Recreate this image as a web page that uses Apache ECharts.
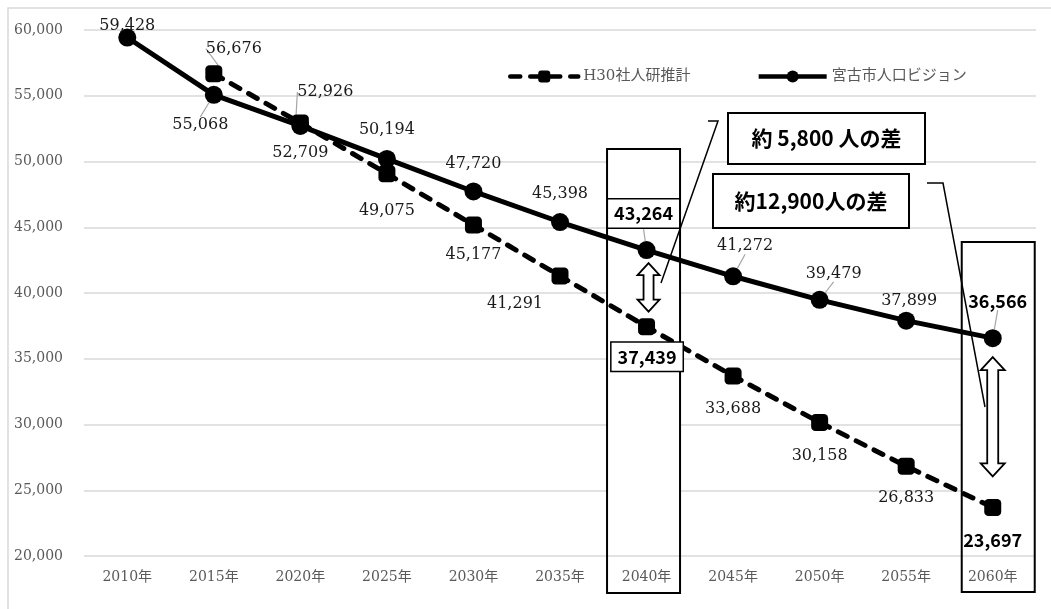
<!DOCTYPE html>
<html>
<head>
<meta charset="utf-8">
<script src="https://cdn.jsdelivr.net/npm/echarts@6/dist/echarts.min.js"></script>
<style>html,body{margin:0;padding:0;background:#fff}#c{width:1051px;height:609px}</style>
</head>
<body>
<div id="c"></div>
<script>
// ---- data ----
const years = ['2010年','2015年','2020年','2025年','2030年','2035年','2040年','2045年','2050年','2055年','2060年'];
const h30Values = [null, 56676, 52926, 49075, 45177, 41291, 37439, 33688, 30158, 26833, 23697];
const visionValues = [59428, 55068, 52709, 50194, 47720, 45398, 43264, 41272, 39479, 37899, 36566];
const seriesNames = ['H30社人研推計', '宮古市人口ビジョン'];
const yMin = 20000, yMax = 60000, yStep = 5000;
const noteTexts = ['約 5,800 人の差', '約12,900人の差'];

// ---- styling (label offsets from point centre, px) ----
const FONT_SERIF = "'DejaVu Serif', 'Noto Sans CJK JP', serif";
const FONT_BOLD = "'Noto Sans CJK JP', sans-serif";
const h30Off = [null, [20,-25], [25,-31], [0,37], [0,30], [-45,28], [0.5,30], [0,33], [0,33], [0,32], [0,33]];
const visOff = [[0,-11.5], [-13.5,30], [0,27], [0,-29], [0,-28], [0,-28], [-3,-36.5], [12,-30], [14,-26], [3,-20], [5,-37]];
const h30Bold = {6: 'box', 10: 'plain'};
const visBold = {6: 'box', 10: 'plain'};
const h30Leader = [1, 2];
const visLeader = [1, 6, 7, 8, 10];

function makeData(vals, bold, leaders) {
  return vals.map((v, i) => {
    if (v == null) return '-';
    const item = { value: v };
    if (bold[i]) {
      item.label = { fontFamily: FONT_BOLD, fontWeight: 'bold', fontSize: 18, color: '#000' };
      if (bold[i] === 'box') Object.assign(item.label, {
        backgroundColor: '#fff', borderColor: '#000', borderWidth: 1.5, padding: [5, 6, 5, 6]
      });
    }
    if (leaders.indexOf(i) >= 0) item.labelLine = { show: true };
    return item;
  });
}

const fmt = v => Number(v).toLocaleString('en-US');

const chart = echarts.init(document.getElementById('c'), null, { renderer: 'canvas' });

const labelBase = {
  show: true, position: 'inside', formatter: p => fmt(p.value),
  fontFamily: FONT_SERIF, fontSize: 16, color: '#1a1a1a'
};

const option = {
  animation: false,
  backgroundColor: '#fff',
  grid: { left: 84, right: 15, top: 30, bottom: 53 },
  legend: {
    data: seriesNames, left: 503, top: 64, itemWidth: 68, itemHeight: 15, itemGap: 66,
    textStyle: { color: '#595959', fontSize: 15, fontFamily: FONT_SERIF },
    lineStyle: { width: 4.5 }
  },
  xAxis: {
    type: 'category', data: years,
    axisLine: { show: false }, axisTick: { show: false },
    axisLabel: { color: '#595959', fontSize: 14, fontFamily: FONT_SERIF, margin: 14 }
  },
  yAxis: {
    type: 'value', min: yMin, max: yMax, interval: yStep,
    axisLine: { show: false }, axisTick: { show: false },
    axisLabel: { color: '#595959', fontSize: 14, fontFamily: FONT_SERIF, margin: 21, formatter: fmt },
    splitLine: { lineStyle: { color: '#d9d9d9', width: 1.5 } }
  },
  series: [
    {
      name: seriesNames[0], type: 'line', data: makeData(h30Values, h30Bold, h30Leader),
      symbol: 'roundRect', symbolSize: 17,
      itemStyle: { color: '#000' },
      lineStyle: { color: '#000', width: 5, type: [10, 10], cap: 'round' },
      label: labelBase,
      labelLine: { show: false, lineStyle: { color: '#a6a6a6', width: 1.2 } },
      labelLayout: p => {
        const o = h30Off[p.dataIndex]; if (!o) return {};
        return { x: p.rect.x + p.rect.width / 2 + o[0], y: p.rect.y + p.rect.height / 2 + o[1], align: 'center', verticalAlign: 'middle' };
      }
    },
    {
      name: seriesNames[1], type: 'line', data: makeData(visionValues, visBold, visLeader),
      symbol: 'circle', symbolSize: 18,
      itemStyle: { color: '#000' },
      lineStyle: { color: '#000', width: 5 },
      label: labelBase,
      labelLine: { show: false, lineStyle: { color: '#a6a6a6', width: 1.2 } },
      labelLayout: p => {
        const o = visOff[p.dataIndex]; if (!o) return {};
        return { x: p.rect.x + p.rect.width / 2 + o[0], y: p.rect.y + p.rect.height / 2 + o[1], align: 'center', verticalAlign: 'middle' };
      }
    }
  ]
};
chart.setOption(option);

// ---- annotations (boxes, arrows, callouts) ----
const px = (i, v) => chart.convertToPixel({ gridIndex: 0 }, [years[i], v]);
const plotBottom = px(0, yMin)[1];
const c40 = px(6, visionValues[6])[0];
const c60 = px(10, visionValues[10])[0];

function dblArrow(cx, top, bottom, headW, headH, shaftW) {
  return [
    [cx, top], [cx + headW / 2, top + headH], [cx + shaftW / 2, top + headH],
    [cx + shaftW / 2, bottom - headH], [cx + headW / 2, bottom - headH], [cx, bottom],
    [cx - headW / 2, bottom - headH], [cx - shaftW / 2, bottom - headH],
    [cx - shaftW / 2, top + headH], [cx - headW / 2, top + headH]
  ];
}

const boxes = [
  { l: c40 - 39.5, r: c40 + 33.5, t: 149, b: 593 },
  { l: c60 - 31, r: c60 + 42, t: 242, b: 592 }
];

const g = [
  { type: 'rect', z: 0, silent: true, shape: { x: 8, y: 8, width: 1200, height: 800 },
    style: { fill: 'none', stroke: '#d9d9d9', lineWidth: 1.5 } }
];
boxes.forEach(b => {
  g.push({ type: 'rect', z: 1, silent: true, shape: { x: b.l, y: b.t, width: b.r - b.l, height: plotBottom - 1 - b.t },
    style: { fill: '#fff', stroke: null } });
  g.push({ type: 'rect', z: 1, silent: true, shape: { x: b.l, y: b.t, width: b.r - b.l, height: b.b - b.t },
    style: { fill: 'none', stroke: '#000', lineWidth: 2 } });
});
// arrows
const a40top = px(6, visionValues[6])[1] + 13, a40bot = px(6, h30Values[6])[1] - 15;
const a60top = px(10, visionValues[10])[1] + 19, a60bot = px(10, h30Values[10])[1] - 31;
g.push({ type: 'polygon', z: 10, silent: true, shape: { points: dblArrow(c40 + 2, a40top, a40bot, 22, 12, 10) },
  style: { fill: '#fff', stroke: '#000', lineWidth: 1.8 } });
g.push({ type: 'polygon', z: 10, silent: true, shape: { points: dblArrow(c60, a60top, a60bot, 24, 13, 11) },
  style: { fill: '#fff', stroke: '#000', lineWidth: 1.8 } });
// callout lines
g.push({ type: 'polyline', z: 10, silent: true, shape: { points: [[708, 121], [718, 121], [661, 283]] },
  style: { fill: null, stroke: '#000', lineWidth: 1.5 } });
g.push({ type: 'polyline', z: 10, silent: true, shape: { points: [[927, 183], [943, 183], [985, 407]] },
  style: { fill: null, stroke: '#000', lineWidth: 1.5 } });
// callout boxes
const callouts = [
  { x: 728, y: 113, w: 197, h: 51, text: noteTexts[0] },
  { x: 713, y: 174, w: 196, h: 54, text: noteTexts[1] }
];
callouts.forEach(c => {
  g.push({ type: 'rect', z: 11, silent: true, shape: { x: c.x, y: c.y, width: c.w, height: c.h },
    style: { fill: '#fff', stroke: '#000', lineWidth: 2 } });
  g.push({ type: 'text', z: 12, silent: true, x: c.x + c.w / 2, y: c.y + c.h / 2,
    style: { text: c.text, fill: '#000', font: "bold 21px 'Noto Sans CJK JP', sans-serif", align: 'center', verticalAlign: 'middle' } });
});

chart.setOption({ graphic: g });
</script>
</body>
</html>
